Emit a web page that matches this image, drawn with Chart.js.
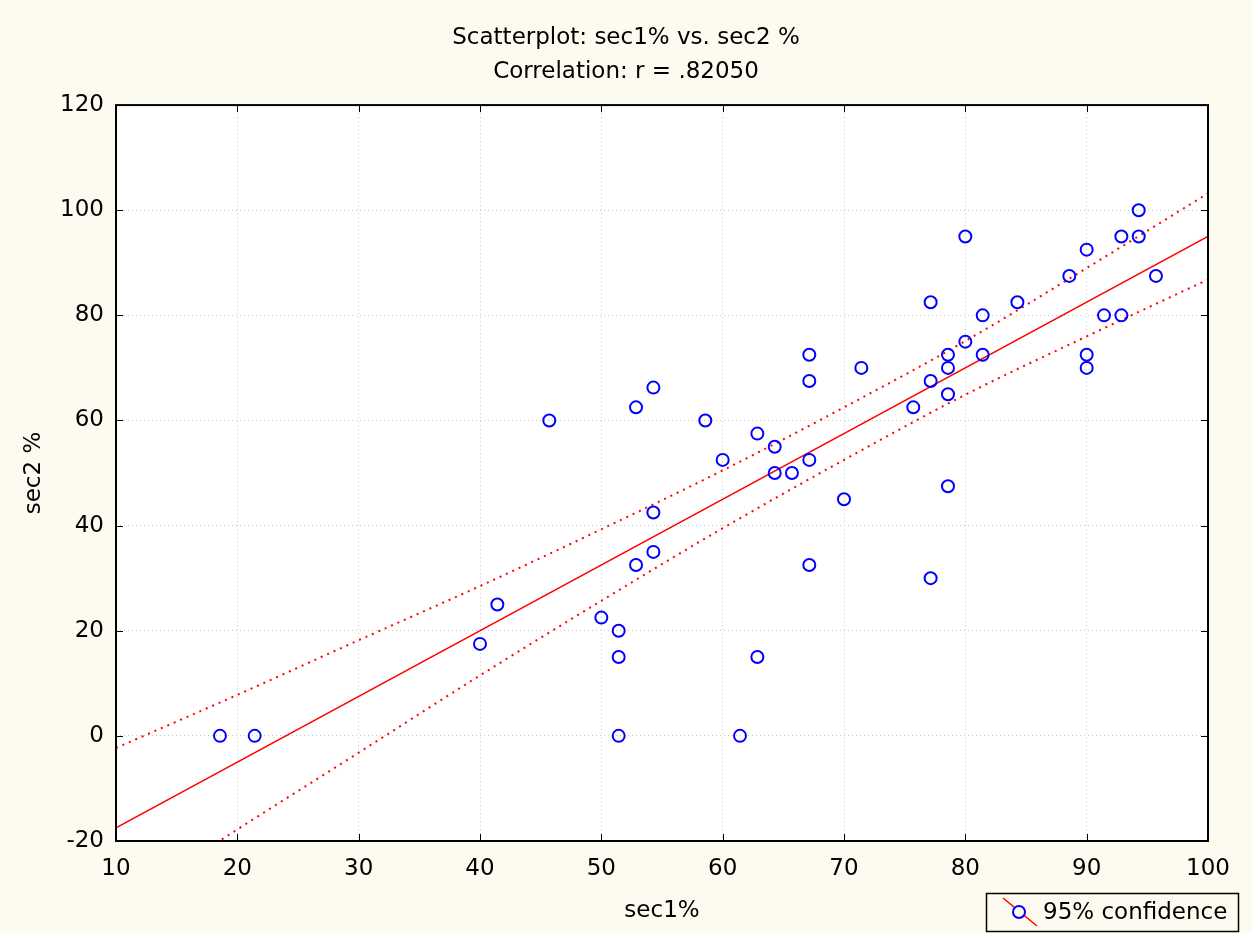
<!DOCTYPE html>
<html><head><meta charset="utf-8">
<script src="https://cdn.jsdelivr.net/npm/chart.js@4"></script>
<style>html,body{margin:0;padding:0;background:#fdfaf0}#wrap{width:1252px;height:933px}</style>
</head><body><div id="wrap"><canvas id="c" width="1252" height="933"></canvas></div>
<script>
// ---- data ----
const sec1 = [18.57, 21.43, 40.00, 41.43, 45.71, 50.00, 51.43, 51.43, 51.43, 52.86, 52.86,
  54.29, 54.29, 54.29, 58.57, 60.00, 61.43, 62.86, 62.86, 64.29, 64.29, 65.71,
  67.14, 67.14, 67.14, 67.14, 70.00, 71.43, 75.71, 77.14, 77.14, 77.14,
  78.57, 78.57, 78.57, 78.57, 80.00, 80.00, 81.43, 81.43, 84.29, 88.57,
  90.00, 90.00, 90.00, 91.43, 92.86, 92.86, 94.29, 94.29, 95.71];
const sec2 = [0, 0, 17.5, 25, 60, 22.5, 20, 15, 0, 62.5, 32.5,
  66.25, 42.5, 35, 60, 52.5, 0, 57.5, 15, 55, 50, 50,
  72.5, 67.5, 52.5, 32.5, 45, 70, 62.5, 82.5, 67.5, 30,
  72.5, 70, 65, 47.5, 95, 75, 80, 72.5, 82.5, 87.5,
  92.5, 72.5, 70, 80, 95, 80, 100, 95, 87.5];
const fitX = [10, 100];
const fitY = [-17.5, 95];
const bandX = [10, 20, 30, 40, 50, 60, 70, 80, 90, 100];
const upperBand = [-2.3, 7.8, 18.2, 28.5, 39.3, 50.5, 62.5, 75.1, 89.0, 103.2];
const lowerBand = [-32.7, -17.8, -3.2, 11.5, 25.7, 39.5, 52.5, 64.9, 76.0, 86.8];
const xTickLabels = [10, 20, 30, 40, 50, 60, 70, 80, 90, 100];
const yTickLabels = [-20, 0, 20, 40, 60, 80, 100, 120];
const titleLines = ['Scatterplot: sec1% vs. sec2 %', 'Correlation: r = .82050'];
const xTitle = 'sec1%';
const yTitle = 'sec2 %';
const legendLabel = '95% confidence';

const FONT = 'DejaVu Sans';
const CREAM = '#fdfaf0';

const pts = (xs, ys) => xs.map((x, i) => ({x: x, y: ys[i]}));

const framePlugin = {
  id: 'frame',
  beforeDraw(chart) {
    const ctx = chart.ctx, a = chart.chartArea;
    ctx.save();
    ctx.fillStyle = CREAM;
    ctx.fillRect(0, 0, chart.width, chart.height);
    ctx.fillStyle = '#ffffff';
    ctx.fillRect(a.left, a.top, a.right - a.left, a.bottom - a.top);
    ctx.restore();
  },
  afterDraw(chart) {
    const ctx = chart.ctx, a = chart.chartArea;
    const xs = chart.scales.x, ys = chart.scales.y;
    ctx.save();
    ctx.strokeStyle = '#000';
    ctx.lineWidth = 1;
    const TL = 7;
    ctx.beginPath();
    xTickLabels.forEach(v => {
      const px = Math.round(xs.getPixelForValue(v)) + 0.5;
      ctx.moveTo(px, a.bottom); ctx.lineTo(px, a.bottom - TL);
      ctx.moveTo(px, a.top); ctx.lineTo(px, a.top + TL);
    });
    yTickLabels.forEach(v => {
      const py = Math.round(ys.getPixelForValue(v)) + 0.5;
      ctx.moveTo(a.left, py); ctx.lineTo(a.left + TL, py);
      ctx.moveTo(a.right, py); ctx.lineTo(a.right - TL, py);
    });
    ctx.stroke();
    ctx.lineWidth = 2;
    ctx.strokeRect(a.left, a.top, a.right - a.left, a.bottom - a.top);

    // legend
    const bx = 986, by = 893, bw = 252, bh = 38;
    ctx.lineWidth = 1.5;
    ctx.strokeStyle = '#000';
    ctx.strokeRect(bx + 0.5, by + 0.5, bw, bh);
    ctx.strokeStyle = '#ff0000';
    ctx.lineWidth = 1.5;
    ctx.beginPath();
    ctx.moveTo(1003, 898); ctx.lineTo(1037, 926);
    ctx.stroke();
    ctx.beginPath();
    ctx.arc(1019, 912, 6, 0, Math.PI * 2);
    ctx.fillStyle = CREAM;
    ctx.fill();
    ctx.strokeStyle = '#0000ff';
    ctx.lineWidth = 2;
    ctx.stroke();
    ctx.fillStyle = '#000';
    ctx.font = '23px "' + FONT + '"';
    ctx.textBaseline = 'middle';
    ctx.textAlign = 'left';
    ctx.fillText(legendLabel, 1043, 913);
    ctx.restore();
  }
};

const tickFont = {family: FONT, size: 23};

new Chart(document.getElementById('c'), {
  type: 'scatter',
  data: {
    datasets: [
      {
        label: legendLabel,
        data: pts(sec1, sec2),
        showLine: false,
        pointRadius: 6,
        pointHoverRadius: 6,
        pointBorderWidth: 2,
        pointBorderColor: '#0000ff',
        pointBackgroundColor: 'rgba(0,0,0,0)',
        order: 0
      },
      {
        label: 'fit',
        data: pts(fitX, fitY),
        showLine: true,
        borderColor: '#ff0000',
        borderWidth: 1.5,
        pointRadius: 0,
        order: 1
      },
      {
        label: 'upper',
        data: pts(bandX, upperBand),
        showLine: true,
        borderColor: '#ff0000',
        borderWidth: 2,
        borderDash: [2, 5],
        cubicInterpolationMode: 'monotone',
        pointRadius: 0,
        order: 2
      },
      {
        label: 'lower',
        data: pts(bandX, lowerBand),
        showLine: true,
        borderColor: '#ff0000',
        borderWidth: 2,
        borderDash: [2, 5],
        cubicInterpolationMode: 'monotone',
        pointRadius: 0,
        order: 3
      }
    ]
  },
  options: {
    responsive: false,
    animation: false,
    layout: {padding: {left: 0, right: 0, top: 0, bottom: 0}},
    plugins: {
      legend: {display: false},
      tooltip: {enabled: false},
      title: {
        display: true,
        text: titleLines,
        color: '#000',
        font: {family: FONT, size: 23, weight: 'normal', lineHeight: 1.48},
        padding: {top: 21, bottom: 16}
      }
    },
    scales: {
      x: {
        type: 'linear',
        min: 10, max: 100,
        afterFit: s => { s.height = 92; },
        afterBuildTicks: s => { s.ticks = xTickLabels.map(v => ({value: v})); },
        ticks: {color: '#000', font: tickFont, padding: 14, maxRotation: 0},
        grid: {color: '#c8c8c8', lineWidth: 1, drawTicks: false},
        border: {display: false, dash: [1, 3]},
        title: {display: true, text: xTitle, color: '#000', font: tickFont, padding: {top: 0, bottom: 8}}
      },
      y: {
        type: 'linear',
        min: -20, max: 120,
        afterFit: s => { s.width = 116; },
        afterBuildTicks: s => { s.ticks = yTickLabels.map(v => ({value: v})); },
        ticks: {color: '#000', font: tickFont, padding: 12},
        grid: {color: '#c8c8c8', lineWidth: 1, drawTicks: false},
        border: {display: false, dash: [1, 3]},
        title: {display: true, text: yTitle, color: '#000', font: tickFont, padding: {top: 20, bottom: 0}}
      },
      yRight: {
        type: 'linear',
        position: 'right',
        min: -20, max: 120,
        afterFit: s => { s.width = 44; },
        ticks: {display: false},
        grid: {display: false, drawTicks: false},
        border: {display: false}
      }
    }
  },
  plugins: [framePlugin]
});
</script>
</body></html>
